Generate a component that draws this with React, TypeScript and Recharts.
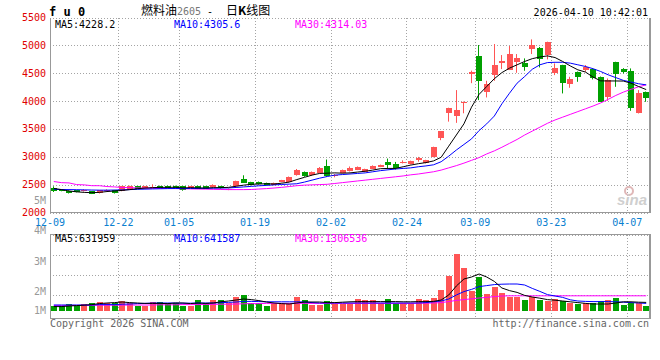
import React from 'react';
import { ComposedChart, Bar, Line, XAxis, YAxis, CartesianGrid } from 'recharts';

const dates = [
  '12-09', '12-10', '12-11', '12-12', '12-15', '12-16', '12-17', '12-18', '12-19', '12-22', '12-23', '12-24', '12-25', '12-26', '12-29', '12-30', '12-31',
  '01-05', '01-06', '01-07', '01-08', '01-09', '01-12', '01-13', '01-14', '01-15', '01-16', '01-19', '01-20', '01-21', '01-22', '01-23', '01-26', '01-27', '01-28', '01-29', '01-30',
  '02-02', '02-03', '02-04', '02-05', '02-06', '02-09', '02-10', '02-11', '02-12', '02-13', '02-24', '02-25', '02-26', '02-27',
  '03-02', '03-03', '03-04', '03-05', '03-06', '03-09', '03-10', '03-11', '03-12', '03-13', '03-16', '03-17', '03-18', '03-19', '03-20', '03-23', '03-24', '03-25', '03-26', '03-27', '03-30', '03-31',
  '04-01', '04-02', '04-03', '04-07', '04-08', '04-09',
];

const opens = [
  2455, 2419, 2395, 2407, 2395, 2389, 2359, 2395, 2407, 2395,
  2437, 2479, 2449, 2467, 2485, 2485, 2485, 2479, 2455, 2485,
  2479, 2467, 2479, 2419, 2479, 2617, 2551, 2557, 2539, 2509,
  2557, 2557, 2677, 2737, 2677, 2719, 2839, 2665, 2719, 2755,
  2779, 2743, 2797, 2827, 2917, 2887, 2899, 2875, 2947, 2899,
  3007, 3355, 3786, 3738, 3966, 4500, 4817, 4176, 4475, 4685,
  4565, 4703, 4697, 4937, 4955, 4835, 4517, 4655, 4313, 4535,
  4565, 4577, 4445, 4086, 4703, 4577, 4553, 3786, 4176,
];
const highs = [
  2479, 2430, 2405, 2415, 2425, 2395, 2412, 2425, 2415, 2485,
  2490, 2485, 2485, 2515, 2490, 2490, 2490, 2485, 2485, 2490,
  2485, 2515, 2485, 2440, 2580, 2677, 2560, 2565, 2545, 2545,
  2595, 2655, 2790, 2745, 2745, 2825, 2960, 2700, 2780, 2835,
  2835, 2795, 2855, 2869, 2977, 2917, 2945, 2940, 3007, 2955,
  3190, 3470, 3890, 4206, 4000, 4555, 5015, 4373, 5033, 4835,
  4997, 4853, 4775, 5116, 4980, 5075, 4685, 4660, 4445, 4540,
  4655, 4590, 4450, 4415, 4715, 4600, 4595, 4206, 4180,
];
const lows = [
  2377, 2390, 2350, 2370, 2385, 2340, 2350, 2385, 2350, 2390,
  2430, 2430, 2440, 2455, 2450, 2440, 2440, 2400, 2450, 2430,
  2430, 2460, 2440, 2410, 2470, 2540, 2495, 2510, 2500, 2500,
  2550, 2550, 2670, 2650, 2670, 2710, 2650, 2640, 2710, 2745,
  2770, 2735, 2790, 2823, 2797, 2780, 2890, 2870, 2920, 2890,
  3000, 3307, 3640, 3618, 3790, 4330, 4026, 4074, 4373, 4583,
  4565, 4517, 4553, 4853, 4613, 4757, 4475, 4146, 4247, 4355,
  4535, 4397, 3996, 4014, 4265, 4505, 3834, 3786, 3996,
];
const closes = [
  2395, 2395, 2359, 2377, 2419, 2347, 2407, 2419, 2359, 2479,
  2479, 2437, 2479, 2473, 2455, 2449, 2449, 2407, 2479, 2437,
  2437, 2509, 2449, 2437, 2575, 2545, 2503, 2515, 2509, 2539,
  2587, 2647, 2779, 2659, 2737, 2815, 2659, 2675, 2767, 2815,
  2827, 2785, 2845, 2857, 2857, 2815, 2917, 2935, 2989, 2947,
  3187, 3468, 3888, 3846, 3990, 4530, 4373, 4313, 4655, 4727,
  4853, 4775, 4625, 5015, 4757, 5075, 4595, 4337, 4397, 4445,
  4613, 4427, 3996, 4385, 4493, 4529, 3876, 4146, 4056,
];

const ma5 = [
  2440, 2420, 2395, 2380, 2370, 2365, 2370, 2385, 2395, 2405,
  2420, 2435, 2448, 2455, 2460, 2460, 2462, 2450, 2455, 2450,
  2448, 2455, 2455, 2460, 2480, 2500, 2515, 2520, 2525, 2520,
  2535, 2555, 2600, 2640, 2680, 2710, 2715, 2720, 2715, 2720,
  2735, 2750, 2770, 2795, 2800, 2800, 2830, 2860, 2885, 2905,
  2935, 3000, 3200, 3400, 3600, 3900, 4130, 4270, 4410, 4520,
  4600, 4660, 4720, 4770, 4800, 4820, 4790, 4720, 4640, 4570,
  4530, 4440, 4372, 4370, 4370, 4368, 4330, 4270, 4215,
];
const ma10 = [
  2425, 2422, 2420, 2418, 2415, 2412, 2410, 2410, 2412, 2415,
  2420, 2425, 2428, 2432, 2435, 2438, 2440, 2440, 2440, 2442,
  2442, 2445, 2448, 2450, 2458, 2468, 2478, 2488, 2495, 2505,
  2512, 2518, 2525, 2555, 2590, 2625, 2655, 2680, 2690, 2700,
  2710, 2720, 2740, 2760, 2775, 2790, 2800, 2810, 2830, 2845,
  2865, 2920, 3020, 3130, 3230, 3330, 3480, 3600, 3740, 3960,
  4150, 4330, 4450, 4580, 4660, 4700, 4705, 4705, 4690, 4660,
  4630, 4590, 4540, 4480, 4430, 4380, 4350, 4320, 4300,
];
const ma30 = [
  2565, 2545, 2540, 2510, 2505, 2490, 2490, 2475, 2468, 2458,
  2455, 2450, 2445, 2443, 2440, 2440, 2438, 2435, 2433, 2430,
  2428, 2425, 2422, 2420, 2420, 2420, 2422, 2430, 2438, 2448,
  2460, 2475, 2490, 2500, 2505, 2510, 2515, 2530, 2545, 2560,
  2575, 2590, 2605, 2620, 2635, 2650, 2665, 2685, 2700, 2720,
  2740, 2770, 2810, 2850, 2895, 2945, 2995, 3060, 3115, 3180,
  3250, 3320, 3400, 3470, 3540, 3610, 3670, 3720, 3770, 3820,
  3870, 3920, 3975, 4040, 4110, 4170, 4220, 4265, 4300,
];

// volume, millions
const volumes = [
  0.45, 0.45, 0.55, 0.45, 0.55, 0.62, 0.67, 0.62, 0.62, 0.70,
  0.62, 0.45, 0.45, 0.67, 0.67, 0.62, 0.62, 0.45, 0.45, 0.75,
  0.62, 0.75, 0.75, 0.62, 0.88, 1.00, 0.62, 0.62, 0.45, 0.62,
  0.58, 0.62, 0.88, 0.75, 0.50, 0.50, 0.70, 0.55, 0.55, 0.55,
  0.78, 0.75, 0.75, 0.62, 0.78, 0.58, 0.58, 0.58, 0.78, 0.75,
  0.83, 1.25, 1.95, 3.05, 2.33, 1.22, 1.88, 1.05, 1.42, 1.12,
  0.92, 0.92, 0.75, 0.92, 0.75, 0.70, 0.78, 0.72, 0.58, 0.55,
  0.58, 0.58, 0.70, 0.75, 0.83, 0.50, 0.58, 0.58, 0.45,
];
const volMa5 = [
  0.42, 0.42, 0.45, 0.47, 0.49, 0.52, 0.57, 0.60, 0.62, 0.65,
  0.62, 0.60, 0.58, 0.58, 0.58, 0.57, 0.60, 0.60, 0.57, 0.60,
  0.58, 0.60, 0.66, 0.70, 0.75, 0.80, 0.77, 0.72, 0.65, 0.60,
  0.57, 0.55, 0.60, 0.65, 0.65, 0.65, 0.62, 0.62, 0.64, 0.66,
  0.67, 0.67, 0.67, 0.67, 0.67, 0.67, 0.66, 0.66, 0.67, 0.67,
  0.68, 0.75, 1.00, 1.45, 1.80, 1.90, 2.05, 1.90, 1.68, 1.35,
  1.22, 1.13, 0.98, 0.90, 0.84, 0.77, 0.74, 0.70, 0.66, 0.62,
  0.58, 0.55, 0.55, 0.55, 0.60, 0.66, 0.66, 0.64, 0.63,
];
const volMa10 = [
  0.50, 0.50, 0.50, 0.50, 0.50, 0.50, 0.52, 0.52, 0.52, 0.54,
  0.55, 0.57, 0.58, 0.60, 0.60, 0.60, 0.60, 0.59, 0.59, 0.60,
  0.60, 0.60, 0.62, 0.63, 0.65, 0.68, 0.68, 0.67, 0.66, 0.66,
  0.66, 0.66, 0.66, 0.65, 0.62, 0.60, 0.60, 0.60, 0.60, 0.60,
  0.60, 0.60, 0.60, 0.60, 0.60, 0.60, 0.60, 0.60, 0.60, 0.62,
  0.66, 0.70, 0.80, 1.00, 1.17, 1.28, 1.42, 1.47, 1.52, 1.54,
  1.55, 1.55, 1.50, 1.33, 1.18, 1.02, 0.95, 0.88, 0.76, 0.70,
  0.68, 0.67, 0.67, 0.67, 0.66, 0.64, 0.62, 0.60, 0.58,
];
const volMa30 = [
  0.48, 0.48, 0.48, 0.48, 0.48, 0.48, 0.49, 0.49, 0.49, 0.49,
  0.50, 0.50, 0.50, 0.50, 0.51, 0.51, 0.51, 0.52, 0.52, 0.52,
  0.53, 0.53, 0.54, 0.54, 0.55, 0.56, 0.57, 0.57, 0.58, 0.58,
  0.58, 0.58, 0.58, 0.58, 0.58, 0.58, 0.58, 0.58, 0.58, 0.58,
  0.58, 0.58, 0.58, 0.58, 0.58, 0.58, 0.58, 0.58, 0.59, 0.59,
  0.60, 0.62, 0.67, 0.73, 0.77, 0.81, 0.85, 0.88, 0.92, 0.95,
  0.96, 0.96, 0.96, 0.96, 0.96, 0.96, 0.96, 0.96, 0.96, 0.96,
  0.96, 0.96, 0.96, 0.96, 0.96, 0.96, 0.96, 0.96, 0.96,
];

const priceTicks = [2000, 2500, 3000, 3500, 4000, 4500, 5000, 5500];
const dateLabels = ['12-09', '12-22', '01-05', '01-19', '02-02', '02-24', '03-09', '03-23', '04-07'];
const volLabels = ['5M', '4M', '3M', '2M', '1M'];
const volGridTicks = [1, 2, 3];

const RED = '#ff5555';
const GREEN = '#00a000';
const GRID = '#a4a4a4';
const BORDER = '#999';
const MONO = '"DejaVu Sans Mono", monospace';
const CJK = '"Noto Sans CJK SC", sans-serif';
const VOL_MIN = -0.15;
const VOL_FLOOR = 0.2;

// each day sits in the middle of its slot; grid lines mark slot edges
const rows = dates.map((date, i) => ({
  pos: i + 0.5,
  date,
  open: opens[i],
  high: highs[i],
  low: lows[i],
  close: closes[i],
  ma5: ma5[i],
  ma10: ma10[i],
  ma30: ma30[i],
  vol: volumes[i],
  vma5: volMa5[i],
  vma10: volMa10[i],
  vma30: volMa30[i],
}));

const tickSlots = dateLabels.map((d) => dates.indexOf(d));

const Candle = (props: any) => {
  const { x, y, width, height, payload } = props;
  if (payload == null || x == null || isNaN(x)) return null;
  const { open, close, high, low } = payload;
  const color = close >= open ? RED : GREEN;
  const k = high > low ? height / (high - low) : 0;
  const py = (v: number) => y + (high - v) * k;
  const c = Math.round(x + width / 2);
  const top = Math.round(py(Math.max(open, close)));
  const bottom = Math.round(py(Math.min(open, close)));
  return (
    <g>
      <line x1={c - 0.5} x2={c - 0.5} y1={y} y2={y + height} stroke={color} strokeWidth={1} />
      <rect x={c - 3} y={top} width={6} height={Math.max(1, bottom - top)} fill={color} />
    </g>
  );
};

const VolBar = (props: any) => {
  const { x, y, width, height, payload } = props;
  if (payload == null || x == null || isNaN(x)) return null;
  const color = payload.close >= payload.open ? RED : GREEN;
  const c = Math.round(x + width / 2);
  return <rect x={c - 3} y={Math.round(y)} width={6} height={Math.max(1, Math.round(height))} fill={color} />;
};

const PriceTick = ({ x, y, payload }: any) => (
  <text x={x} y={y + 3} textAnchor="end" fill="#e00000" fontSize={10} fontFamily={MONO}>
    {payload.value}
  </text>
);

const DateTick = ({ x, payload }: any) => (
  <text x={x} y={225.5} textAnchor="middle" fill="#0a80d0" fontSize={10} fontFamily={MONO}>
    {dates[payload.value]}
  </text>
);

const css = `
body { margin: 0; }
.recharts-cartesian-grid line { shape-rendering: crispEdges; }
.frame { shape-rendering: crispEdges; }
`;

export default function App() {
  return (
    <div style={{ position: 'relative', width: 660, height: 360, background: '#fff', overflow: 'hidden' }}>
      <style>{css}</style>

      <div style={{ position: 'absolute', left: 0, top: 0 }}>
        <ComposedChart width={660} height={230} data={rows} margin={{ top: 18, right: 10, bottom: 0, left: 0 }}>
          <CartesianGrid stroke={GRID} strokeDasharray="1 2" />
          <XAxis
            dataKey="pos" type="number" domain={[0, 79]} ticks={tickSlots} interval={0}
            height={17} axisLine={false} tickLine={false} tickSize={0} tickMargin={0}
            tick={<DateTick />} allowDataOverflow
          />
          <YAxis
            domain={[2000, 5500]} ticks={priceTicks} interval={0} width={50}
            axisLine={false} tickLine={false} tickSize={0} tickMargin={4}
            tick={<PriceTick />} allowDataOverflow
          />
          <Bar dataKey={(d: any) => [d.low, d.high]} barSize={6} shape={<Candle />} isAnimationActive={false} />
          <Line dataKey="ma30" stroke="#ff00ff" strokeWidth={1} dot={false} isAnimationActive={false} />
          <Line dataKey="ma10" stroke="#0000ff" strokeWidth={1} dot={false} isAnimationActive={false} />
          <Line dataKey="ma5" stroke="#000000" strokeWidth={1} dot={false} isAnimationActive={false} />
        </ComposedChart>
      </div>

      <div style={{ position: 'absolute', left: 0, top: 225 }}>
        <ComposedChart width={660} height={135} data={rows} margin={{ top: 10, right: 10, bottom: 42, left: 50 }}>
          <CartesianGrid stroke={GRID} strokeDasharray="1 2" />
          <XAxis dataKey="pos" type="number" domain={[0, 79]} ticks={tickSlots} interval={0} hide allowDataOverflow />
          <YAxis domain={[VOL_MIN, 4]} ticks={volGridTicks} interval={0} hide allowDataOverflow />
          <Bar dataKey={(d: any) => [VOL_FLOOR, d.vol]} barSize={6} shape={<VolBar />} isAnimationActive={false} />
          <Line dataKey="vma30" stroke="#ff00ff" strokeWidth={1} dot={false} isAnimationActive={false} />
          <Line dataKey="vma10" stroke="#0000ff" strokeWidth={1} dot={false} isAnimationActive={false} />
          <Line dataKey="vma5" stroke="#000000" strokeWidth={1} dot={false} isAnimationActive={false} />
        </ComposedChart>
      </div>

      <svg width={660} height={360} style={{ position: 'absolute', left: 0, top: 0, pointerEvents: 'none' }}>
        {/* panel frames */}
        <g className="frame" fill="none" stroke={BORDER} strokeWidth={1}>
          <line x1={50.5} y1={18} x2={50.5} y2={213} />
          <line x1={50} y1={212.5} x2={649} y2={212.5} />
          <line x1={50} y1={234.5} x2={649} y2={234.5} />
          <line x1={50.5} y1={234} x2={50.5} y2={319} />
          <line x1={50} y1={318.5} x2={649} y2={318.5} />
        </g>
        <rect x={649} y={18} width={2} height={195} fill={BORDER} />
        <rect x={649} y={234} width={2} height={85} fill={BORDER} />

        <text x={49} y={15.5} fontSize={12} fontWeight="bold" fontFamily={MONO} fill="#000">f u 0</text>
        <text y={14.5} fontSize={12} fontFamily={CJK} fill="#000">
          <tspan x={141}>燃料油</tspan>
          <tspan x={177} fontFamily={MONO} fontSize={10} fill="#777">2605</tspan>
          <tspan x={207} fontFamily={MONO} fontSize={10}>-</tspan>
          <tspan x={226}>日</tspan>
          <tspan fontWeight="bold">K</tspan>
          <tspan>线图</tspan>
        </text>
        <text x={648} y={15.5} textAnchor="end" fontSize={10} fontFamily={MONO} fill="#000">2026-04-10 10:42:01</text>

        <text x={55} y={27.5} fontSize={10} fontFamily={MONO} fill="#000">MA5:4228.2</text>
        <text x={174} y={27.5} fontSize={10} fontFamily={MONO} fill="#0000ff">MA10:4305.6</text>
        <text x={295} y={27.5} fontSize={10} fontFamily={MONO} fill="#ff00ff">MA30:4314.03</text>

        <text x={55} y={241.5} fontSize={10} fontFamily={MONO} fill="#000">MA5:631959</text>
        <text x={174} y={241.5} fontSize={10} fontFamily={MONO} fill="#0000ff">MA10:641587</text>
        <text x={295} y={241.5} fontSize={10} fontFamily={MONO} fill="#ff00ff">MA30:1306536</text>

        {volLabels.map((label, i) => (
          <text key={label} x={46} y={[203.5, 234, 264.5, 294.5, 313.5][i]} textAnchor="end" fontSize={10} fontFamily={MONO} fill="#999">
            {label}
          </text>
        ))}

        <text x={50} y={327} fontSize={10} fontFamily={MONO} fill="#666">Copyright 2026 SINA.COM</text>
        <text x={649} y={327} textAnchor="end" fontSize={10} fontFamily={MONO} fill="#666">http://finance.sina.com.cn</text>

        <circle cx={629} cy={191} r={4} fill="none" stroke="#e0b8b8" strokeWidth={2} />
        <text x={617} y={205} fontSize={15} fontStyle="italic" fontWeight="bold" fontFamily='"Liberation Sans", sans-serif' fill="#cfcfcf">sina</text>
      </svg>
    </div>
  );
}
